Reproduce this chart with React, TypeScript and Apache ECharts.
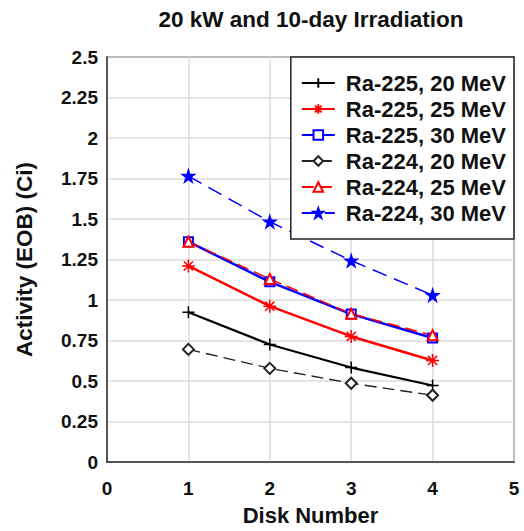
import React, { useEffect, useRef } from "react";
import * as echarts from "echarts";

const disks = [1, 2, 3, 4];
const ra225_20 = [0.925, 0.725, 0.583, 0.472];
const ra225_25 = [1.21, 0.962, 0.775, 0.627];
const ra225_30 = [1.36, 1.112, 0.913, 0.765];
const ra224_20 = [0.695, 0.578, 0.486, 0.412];
const ra224_25 = [1.36, 1.13, 0.915, 0.782];
const ra224_30 = [1.765, 1.483, 1.243, 1.03];
const seriesNames = [
  "Ra-225, 20 MeV",
  "Ra-225, 25 MeV",
  "Ra-225, 30 MeV",
  "Ra-224, 20 MeV",
  "Ra-224, 25 MeV",
  "Ra-224, 30 MeV",
];

const PLUS = "path://M5,0L5,10M0,5L10,5";
const ASTER = "path://M5,0L5,10M0,5L10,5M1.5,1.5L8.5,8.5M8.5,1.5L1.5,8.5";
const STAR =
  "path://M5,0L6.2,3.6L10,3.6L6.9,5.9L8.1,9.5L5,7.3L1.9,9.5L3.1,5.9L0,3.6L3.8,3.6Z";

export default function App() {
  const ref = useRef<HTMLDivElement>(null);
  useEffect(() => {
    if (!ref.current) return;
    const chart = echarts.init(ref.current, null, { renderer: "svg" });
    const font = "'Liberation Sans', Arial, sans-serif";
    const mk = (
      name: string,
      vals: number[],
      color: string,
      symbol: string,
      symbolSize: number,
      dash: number[] | null,
      width: number,
      fill: string
    ) => ({
      name,
      type: "line",
      data: disks.map((d, i) => [d, vals[i]]),
      symbol,
      symbolSize,
      showAllSymbol: true,
      lineStyle: { color, width, type: dash ? dash : "solid" },
      itemStyle: { color: fill, borderColor: color, borderWidth: 1.5 },
      emphasis: { disabled: true },
    });
    chart.setOption({
      animation: false,
      backgroundColor: "#fff",
      textStyle: { fontFamily: font },
      title: {
        text: "20 kW and 10-day Irradiation",
        left: 306,
        textAlign: "center",
        top: 3,
        textStyle: { fontSize: 22.5, fontWeight: "bold", color: "#111", fontFamily: font },
      },
      legend: {
        orient: "vertical",
        right: 10,
        top: 57,
        backgroundColor: "#fff",
        borderColor: "#222",
        borderWidth: 1.5,
        borderRadius: 0,
        padding: [15, 8, 15, 10],
        itemWidth: 33,
        itemHeight: 12,
        itemGap: 4,
        textStyle: {
          fontSize: 22,
          fontWeight: "bold",
          color: "#111",
          fontFamily: font,
          padding: [0, 0, 0, 6],
        },
        data: seriesNames,
      },
      grid: {
        left: 107,
        right: 10,
        top: 57,
        bottom: 66,
        show: true,
        borderColor: "#333",
        borderWidth: 1.5,
      },
      xAxis: {
        type: "value",
        min: 0,
        max: 5,
        interval: 1,
        name: "Disk Number",
        nameLocation: "middle",
        nameGap: 42,
        nameTextStyle: { fontSize: 22, fontWeight: "bold", color: "#111", fontFamily: font },
        axisLine: { lineStyle: { color: "#333", width: 1.5 } },
        axisTick: { show: false },
        axisLabel: { fontSize: 19, fontWeight: "bold", color: "#111", margin: 17, fontFamily: font },
        splitLine: { show: true, lineStyle: { color: "#dcdcdc", width: 1.5 } },
      },
      yAxis: {
        type: "value",
        min: 0,
        max: 2.5,
        interval: 0.25,
        name: "Activity (EOB) (Ci)",
        nameLocation: "middle",
        nameGap: 71,
        nameTextStyle: { fontSize: 22.5, fontWeight: "bold", color: "#111", fontFamily: font },
        axisLine: { show: true, lineStyle: { color: "#333", width: 1.5 } },
        axisTick: { show: false },
        axisLabel: {
          fontSize: 19,
          fontWeight: "bold",
          color: "#111",
          margin: 9,
          fontFamily: font,
          formatter: (v: number) => String(v),
        },
        splitLine: { show: true, lineStyle: { color: "#dcdcdc", width: 1.5 } },
      },
      series: [
        mk(seriesNames[0], ra225_20, "#000", PLUS, 12, null, 2.2, "#000"),
        mk(seriesNames[1], ra225_25, "#ff0000", ASTER, 13, null, 2.5, "#ff0000"),
        mk(seriesNames[2], ra225_30, "#0000ff", "emptyRect", 9, null, 2.5, "#0000ff"),
        mk(seriesNames[3], ra224_20, "#222", "emptyDiamond", 11, [12, 6], 1.3, "#222"),
        mk(seriesNames[4], ra224_25, "#ff0000", "emptyTriangle", 10, [12, 6], 1.5, "#ff0000"),
        mk(seriesNames[5], ra224_30, "#0000ff", STAR, 12, [15, 8], 1.5, "#0000ff"),
      ],
    });
    return () => chart.dispose();
  }, []);
  return <div ref={ref} style={{ width: 524, height: 531, position: "absolute", left: 0, top: 0 }} />;
}
